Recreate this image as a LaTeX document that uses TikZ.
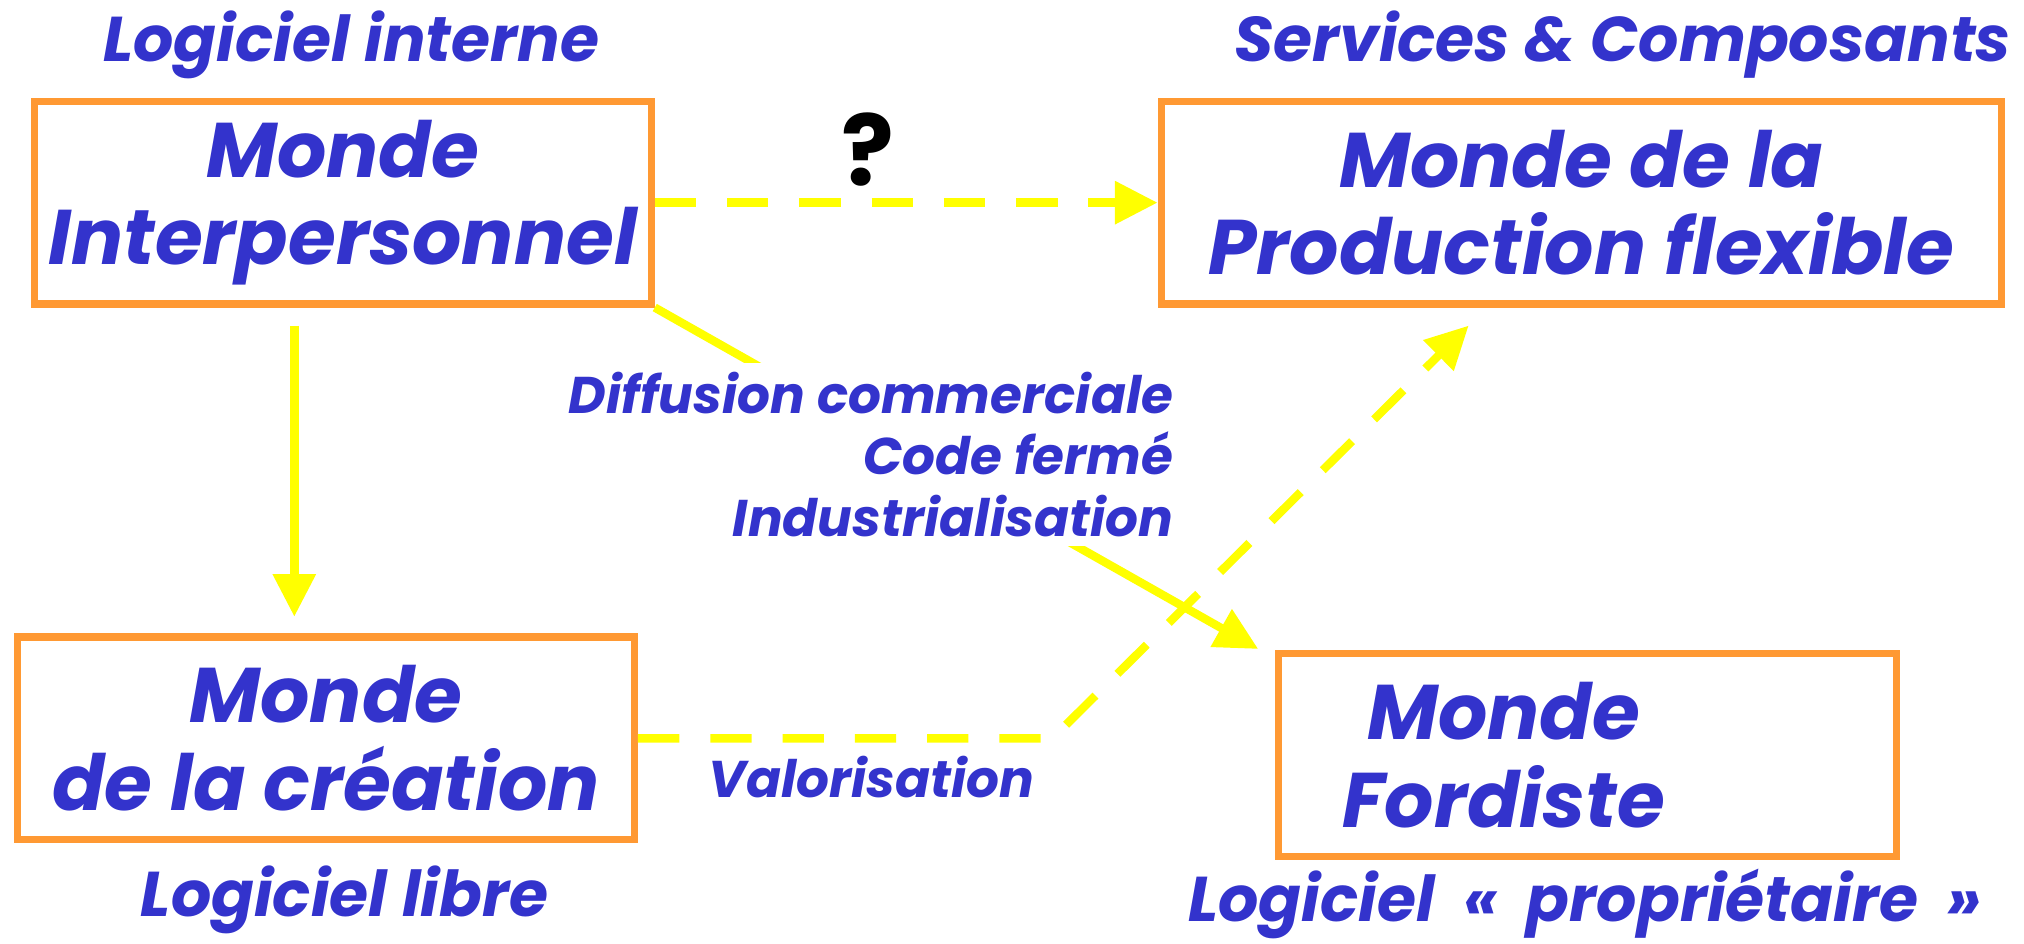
\documentclass[tikz,border=0pt]{standalone}
\usepackage{fontspec}
\setmainfont{Poppins}
\usetikzlibrary{arrows.meta,calc}
\definecolor{txtblue}{HTML}{3333CC}
\definecolor{boxorange}{HTML}{FF9933}
\definecolor{arryellow}{HTML}{FFFF00}
\begin{document}
\begin{tikzpicture}[x=1pt,y=-1pt,
  world/.style={draw=boxorange, line width=5.5pt, fill=white, text=txtblue,
    font=\fontsize{60}{68}\selectfont\bfseries\itshape, align=center, inner sep=0pt,
    minimum width=478pt, minimum height=157pt},
  tag/.style={text=txtblue, font=\fontsize{49}{56}\selectfont\bfseries\itshape, inner sep=0pt},
  note/.style={text=txtblue, font=\fontsize{40}{47.5}\selectfont\bfseries\itshape, inner sep=0pt},
  flow/.style={draw=arryellow, line width=6.5pt, -{Triangle[length=33pt,width=32pt]}},
  dashflow/.style={flow, dash pattern=on 32pt off 24pt},
]
\useasboundingbox (0,0) rectangle (1568,731);

% boxes
\node[world] (inter) at (265.5,157) {Monde\\Interpersonnel};
\node[world, minimum width=651pt] (prod) at (1225,157) {Monde de la\\Production flexible};
\node[world] (crea) at (252.5,572) {Monde\\de la création};
\node[world, minimum width=479pt] (ford) at (1230,585) {Monde\hspace*{130pt}\\Fordiste\hspace*{130pt}};

% tags
\node[tag, anchor=base] (tint) at (272,48) {Logiciel interne};
\node[tag, anchor=base] (tserv) at (1257,48) {Services \& Composants};
\node[tag, anchor=base] (tlib) at (267,710) {Logiciel libre};
\node[tag, anchor=base] (tprop) at (1228,714) {Logiciel\hspace{22pt}«\hspace{22pt}propriétaire\hspace{22pt}»};

% connectors
\draw[dashflow] (inter.east) -- (prod.west);
\node[anchor=base, font=\fontsize{76}{84}\selectfont\bfseries, text=black, inner sep=0pt] (q) at (672,144) {?};

\draw[flow] ($(inter.south)+(-37.5,14)$) -- ($(crea.north)+(-24.5,-13)$);

\draw[flow] (inter.south east) -- ($(ford.north west)+(-13,-1)$);
\node[note, align=right, anchor=east, fill=white, inner xsep=3pt, inner ysep=7pt] (diff) at (912,352)
  {Diffusion commerciale\\Code fermé\\Industrialisation};

\draw[dashflow] (crea.east) -- ($(crea.east)+(321,0)$) -- ($(prod.south west)+(241,14)$);
\node[note, anchor=base] (valo) at (675,618) {Valorisation};
\end{tikzpicture}
\end{document}
